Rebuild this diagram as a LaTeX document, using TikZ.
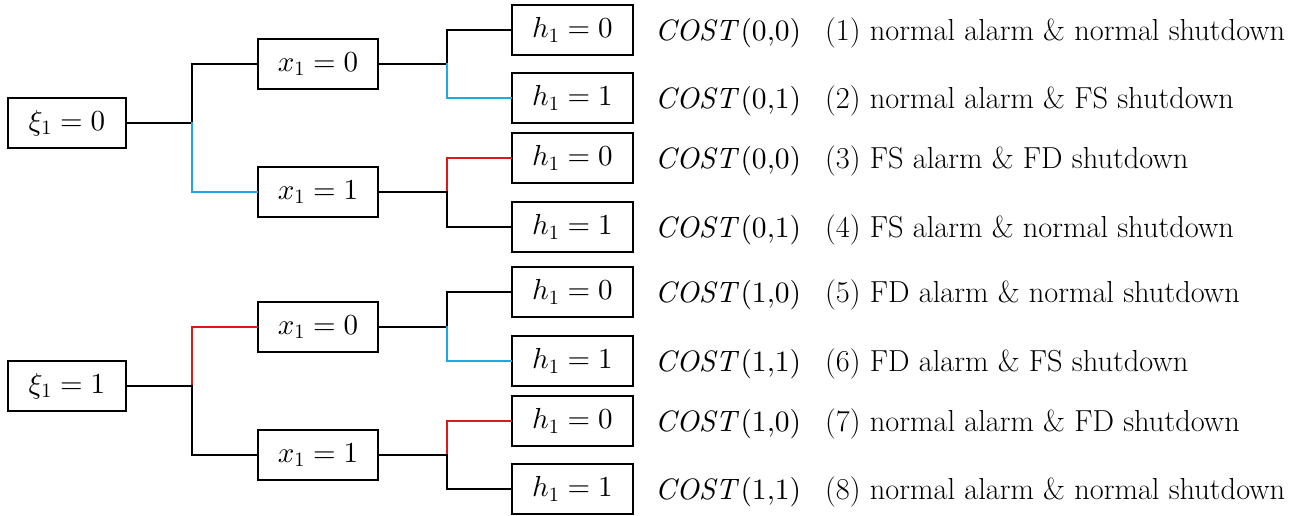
\documentclass[tikz,border=0pt]{standalone}
\usepackage[no-math]{fontspec}
\DeclareFontShape{OML}{cmm}{m}{it}{<->cmmi10}{}
\DeclareFontShape{OT1}{cmr}{m}{n}{<->cmr10}{}
\DeclareFontShape{OT1}{cmr}{m}{it}{<->cmti10}{}
\DeclareFontShape{OMS}{cmsy}{m}{n}{<->cmsy10}{}
\definecolor{cblue}{RGB}{30,168,226}
\definecolor{cred}{RGB}{222,24,24}
\begin{document}
\begin{tikzpicture}[x=1pt,y=-1pt,
  box/.style={draw=black,line width=1.8pt,inner sep=0pt,minimum height=50pt,
    font=\fontsize{29}{34}\selectfont},
  xibox/.style={box,minimum width=118pt},
  xbox/.style={box,minimum width=120pt},
  hbox/.style={box,minimum width=121pt},
  cost/.style={anchor=base west,inner sep=0pt,font=\fontsize{29.5}{34}\selectfont},
  desc/.style={anchor=base west,inner sep=0pt,font=\rmfamily\fontsize{30.4}{36}\selectfont},
  conn/.style={line width=2.4pt,line cap=rect},
  bl/.style={conn,color=cblue},
  rd/.style={conn,color=cred},
  bk/.style={conn,color=black}]
\useasboundingbox (0,0) rectangle (1307,515);
% level 0
\node[xibox] (xi0) at (67,123) {$\xi_1=0$};
\node[xibox] (xi1) at (67,386) {$\xi_1=1$};
% level 1
\node[xbox] (xa) at (318,64) {$x_1=0$};
\node[xbox] (xb) at (318,192) {$x_1=1$};
\node[xbox] (xc) at (318,327) {$x_1=0$};
\node[xbox] (xd) at (318,455) {$x_1=1$};
% level 2
\foreach \n/\y/\v in {h1/30/0,h2/98/1,h3/158/0,h4/227/1,h5/292/0,h6/361/1,h7/421/0,h8/489/1}{
  \node[hbox] (\n) at (572.5,\y) {$h_1=\v$};
}
% junctions
\coordinate (j0) at (192,123);
\coordinate (j1) at (192,386);
\coordinate (ja) at (447,64);
\coordinate (jb) at (447,192);
\coordinate (jc) at (447,327);
\coordinate (jd) at (447,455);
% connectors
\draw[bk] (xi0.east) -- (j0);
\draw[bk] (j0) |- (xa.west);
\draw[bl] (j0) |- (xb.west);
\draw[bk] (xi1.east) -- (j1);
\draw[rd] (j1) |- (xc.west);
\draw[bk] (j1) |- (xd.west);
\draw[bk] (xa.east) -- (ja);
\draw[bk] (ja) |- (h1.west);
\draw[bl] (ja) |- (h2.west);
\draw[bk] (xb.east) -- (jb);
\draw[rd] (jb) |- (h3.west);
\draw[bk] (jb) |- (h4.west);
\draw[bk] (xc.east) -- (jc);
\draw[bk] (jc) |- (h5.west);
\draw[bl] (jc) |- (h6.west);
\draw[bk] (xd.east) -- (jd);
\draw[rd] (jd) |- (h7.west);
\draw[bk] (jd) |- (h8.west);
% labels
\foreach \n/\y/\a/\b/\t in {
 c1/30/0/0/{(1) normal alarm \& normal shutdown},
 c2/98/0/1/{(2) normal alarm \& FS shutdown},
 c3/158/0/0/{(3) FS alarm \& FD shutdown},
 c4/227/0/1/{(4) FS alarm \& normal shutdown},
 c5/292/1/0/{(5) FD alarm \& normal shutdown},
 c6/361/1/1/{(6) FD alarm \& FS shutdown},
 c7/421/1/0/{(7) normal alarm \& FD shutdown},
 c8/489/1/1/{(8) normal alarm \& normal shutdown}}{
  \node[cost] (\n) at (655,\y+10) {$\mathit{COST}(\a{,}\b)$};
  \node[desc] (d\n) at (825,\y+10) {\t};
}
\end{tikzpicture}
\end{document}
